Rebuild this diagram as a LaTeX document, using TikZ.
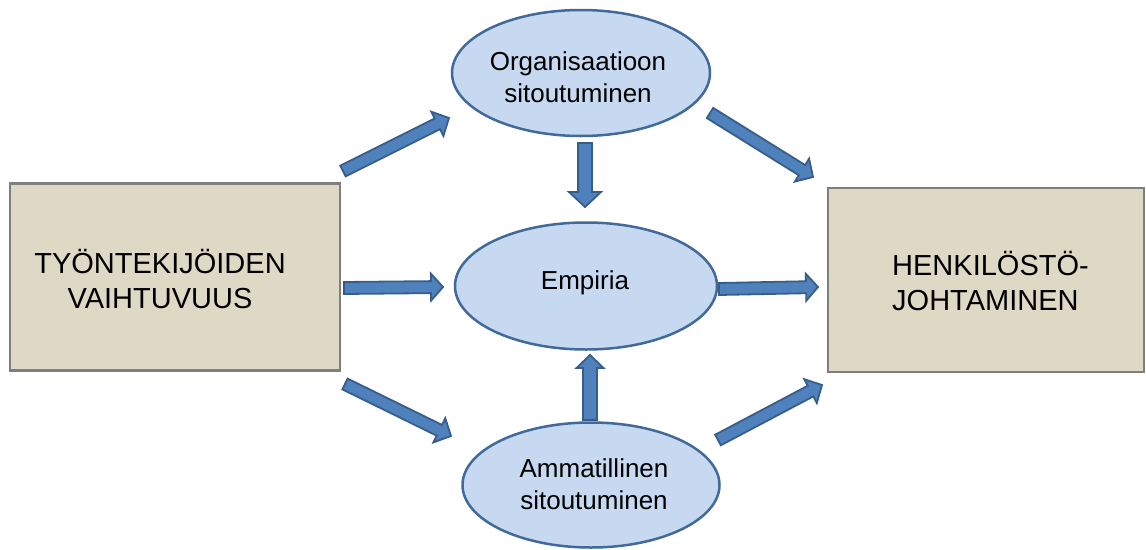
\documentclass[tikz,border=0pt]{standalone}
\usepackage{fontspec}
\setmainfont{Liberation Sans}
\usetikzlibrary{calc,shapes.geometric}
\definecolor{boxfill}{HTML}{DDD9C4}
\definecolor{boxline}{HTML}{7F7F7F}
\definecolor{ellfill}{HTML}{C6D9F0}
\definecolor{ellline}{HTML}{41699A}
\definecolor{arrfill}{HTML}{4F81BD}
\definecolor{arrline}{HTML}{385D8A}
\tikzset{
  boxnode/.style={draw=boxline,fill=boxfill,line width=2.5pt,minimum width=330pt,minimum height=187pt,inner sep=0pt},
  ellnode/.style={ellipse,draw=ellline,fill=ellfill,line width=2.5pt,inner sep=0pt},
  boxtext/.style={font=\fontsize{29}{35}\selectfont,align=left,inner sep=0pt},
  elltext/.style={font=\fontsize{26}{32}\selectfont,align=center,inner sep=0pt},
  blockarrow/.style={draw=arrline,fill=arrfill,line width=1.8pt,line join=miter}
}
% #1 tail, #2 tip, #3 half shaft, #4 half head width, #5 head length
\newcommand\blockarr[5]{%
  \path ($(#2)!#5!(#1)$) coordinate (bh);
  \draw[blockarrow] ($(#1)!#3!90:(#2)$) -- ($(bh)!#3!90:(#2)$) -- ($(bh)!#4!90:(#2)$)
     -- (#2) -- ($(bh)!#4!-90:(#2)$) -- ($(bh)!#3!-90:(#2)$) -- ($(#1)!#3!-90:(#2)$) -- cycle;
}
\begin{document}
\begin{tikzpicture}[x=1pt,y=-1pt]
\useasboundingbox (0,0) rectangle (1146,549);
\clip (0,0) rectangle (1146,549);
% boxes
\node[boxnode] (left) at (175,277) {};
\node[boxtext,align=center] (lefttext) at (160,279) {TYÖNTEKIJÖIDEN\\ VAIHTUVUUS};
\node[boxnode,minimum width=316pt,minimum height=184pt] (right) at (986,280) {};
\node[boxtext,anchor=west] (righttext) at (892,281) {HENKILÖSTÖ-\\JOHTAMINEN};
% ellipses
\node[ellnode,minimum width=258pt,minimum height=126pt] (org) at (581,73) {};
\node[elltext] (orgtext) at (578,77) {Organisaatioon\\sitoutuminen};
\node[ellnode,minimum width=262pt,minimum height=127pt] (emp) at (586,286) {};
\node[elltext] (emptext) at (585,283) {Empiria};
\node[ellnode,minimum width=257pt,minimum height=125pt] (amm) at (591,485) {};
\node[elltext] (ammtext) at (594,484) {Ammatillinen\\sitoutuminen};
% arrow end points
\coordinate (a1s) at (343,171); \coordinate (a1e) at (449,118);
\coordinate (a2s) at (344,288); \coordinate (a2e) at (443,287);
\coordinate (a3s) at (345,384); \coordinate (a3e) at (451,436);
\coordinate (a4s) at (585,143); \coordinate (a4e) at (585,207);
\coordinate (a5s) at (719,289); \coordinate (a5e) at (818,287);
\coordinate (a6s) at (710,113); \coordinate (a6e) at (813,177);
\coordinate (a7s) at (718,440); \coordinate (a7e) at (822,385);
\coordinate (a8s) at (590,420); \coordinate (a8e) at (590,355);
\blockarr{a1s}{a1e}{6pt}{13.5pt}{13pt}
\blockarr{a2s}{a2e}{6pt}{13.5pt}{12pt}
\blockarr{a3s}{a3e}{6pt}{13.5pt}{13pt}
\blockarr{a4s}{a4e}{7pt}{16pt}{15pt}
\blockarr{a5s}{a5e}{6pt}{13.5pt}{12pt}
\blockarr{a6s}{a6e}{6pt}{13.5pt}{13pt}
\blockarr{a7s}{a7e}{6pt}{13.5pt}{13pt}
\blockarr{a8s}{a8e}{7pt}{13.5pt}{13pt}
\end{tikzpicture}
\end{document}
